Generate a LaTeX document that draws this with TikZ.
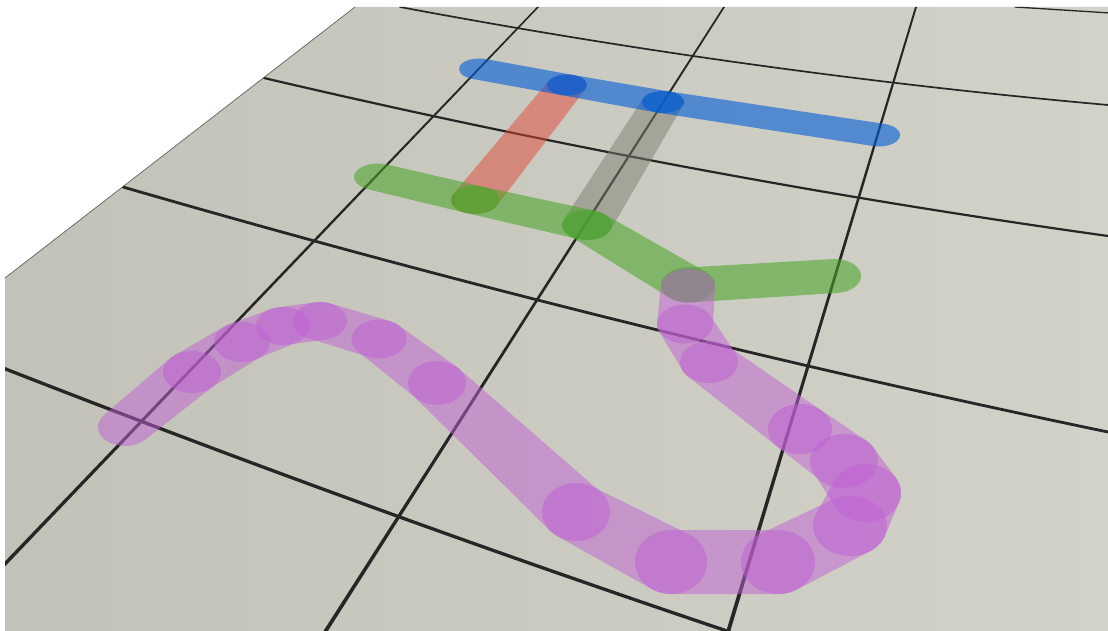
\documentclass[tikz,border=0pt]{standalone}
\usetikzlibrary{calc}
\definecolor{bgL}{RGB}{194,194,184}
\definecolor{bgR}{RGB}{210,210,200}
\definecolor{gridc}{RGB}{38,38,38}
\definecolor{edgec}{RGB}{110,110,105}
\definecolor{cblue}{RGB}{0,92,215}
\definecolor{cgreen}{RGB}{72,165,40}
\definecolor{cred}{RGB}{224,72,56}
\definecolor{cgray}{RGB}{126,126,112}
\definecolor{cpurple}{RGB}{192,96,212}
% tube segment: style, x1,y1,a1,b1, x2,y2,a2,b2
\newcommand\tubeseg[9]{%
  \pgfmathsetmacro\tsdx{#6-(#2)}%
  \pgfmathsetmacro\tsdy{#7-(#3)}%
  \pgfmathsetmacro\tslen{veclen(\tsdx,\tsdy)}%
  \pgfmathsetmacro\tsnx{-1*(\tsdy)/\tslen}%
  \pgfmathsetmacro\tsny{(\tsdx)/\tslen}%
  \pgfmathsetmacro\tsta{atan2((#5)*(\tsny),(#4)*(\tsnx))}%
  \pgfmathsetmacro\tstb{atan2((#9)*(\tsny),(#8)*(\tsnx))}%
  \pgfmathsetmacro\tsax{#2+(#4)*cos(\tsta)}%
  \pgfmathsetmacro\tsay{#3+(#5)*sin(\tsta)}%
  \pgfmathsetmacro\tsbx{#6+(#8)*cos(\tstb)}%
  \pgfmathsetmacro\tsby{#7+(#9)*sin(\tstb)}%
  \pgfmathsetmacro\tscx{#2-(#4)*cos(\tsta)}%
  \pgfmathsetmacro\tscy{#3-(#5)*sin(\tsta)}%
  \pgfmathsetmacro\tsbe{\tstb-180}%
  \pgfmathsetmacro\tsas{\tsta+180}%
  \fill[#1] (\tsax,\tsay) -- (\tsbx,\tsby)
    arc[start angle=\tstb, end angle=\tsbe, x radius=#8, y radius=#9]
    -- (\tscx,\tscy)
    arc[start angle=\tsas, end angle=\tsta, x radius=#4, y radius=#5] -- cycle;%
}
\begin{document}
\begin{tikzpicture}[x=1pt,y=-1pt,
  gridline/.style={draw=gridc,line cap=round},
  gridfill/.style={fill=gridc},
  tred/.style={fill=cred,fill opacity=0.5},
  tgray/.style={fill=cgray,fill opacity=0.5},
  tblue/.style={fill=cblue,fill opacity=0.6},
  tgreen/.style={fill=cgreen,fill opacity=0.57},
  tpurple/.style={fill=cpurple,fill opacity=0.5}]
\useasboundingbox (0,0) rectangle (1108,631);
\fill[white] (0,0) rectangle (1108,631);
% plane
\shade[left color=bgL,right color=bgR] (5,631) -- (5,278) -- (355,7) -- (1108,7) -- (1108,631) -- cycle;
\draw[edgec, line width=0.8pt] (5,278) -- (355,7);
% grid
\begin{scope}
\clip (5,631) -- (5,278) -- (355,7) -- (1108,7) -- (1108,631) -- cycle;
\coordinate (h1a) at (400,7);   \coordinate (h1c) at (754,73.4);  \coordinate (h1b) at (1108,105);
\coordinate (h2a) at (264,78);  \coordinate (h2c) at (686,177);   \coordinate (h2b) at (1108,236);
\coordinate (h3a) at (123,187); \coordinate (h3c) at (614.5,329.5); \coordinate (h3b) at (1108,432);
\coordinate (h4a) at (3,368);   \coordinate (h4c) at (366.5,510); \coordinate (h4b) at (730,632);
\draw[gridline, line width=1.3pt] (1015,7) -- (1110,13);
\draw[gridline, line width=1.7pt] (h1a) .. controls ($(h1a)!2/3!(h1c)$) and ($(h1b)!2/3!(h1c)$) .. (h1b);
\draw[gridline, line width=2.2pt] (h2a) .. controls ($(h2a)!2/3!(h2c)$) and ($(h2b)!2/3!(h2c)$) .. (h2b);
\draw[gridline, line width=2.8pt] (h3a) .. controls ($(h3a)!2/3!(h3c)$) and ($(h3b)!2/3!(h3c)$) .. (h3b);
\draw[gridline, line width=3.3pt] (h4a) .. controls ($(h4a)!2/3!(h4c)$) and ($(h4b)!2/3!(h4c)$) .. (h4b);
% vertical-ish lines, tapered
\fill[gridfill] (0.6,566) -- (536.9,7) -- (539.1,7) -- (5.4,566) -- cycle;
\fill[gridfill] (322.8,632) -- (723.0,7) -- (725.0,7) -- (327.2,632) -- cycle;
\fill[gridfill] (726.0,632) -- (915.0,7) -- (917.0,7) -- (730.0,632) -- cycle;
\end{scope}
% red and gray connectors
\tubeseg{tred}{567}{85}{20}{10.5}{475}{200}{24}{14}
\tubeseg{tgray}{663}{102}{21}{11}{587}{225}{25}{15}
% blue
\tubeseg{tblue}{479}{69}{20}{10.5}{567}{85}{20}{10.5}
\tubeseg{tblue}{567}{85}{20}{10.5}{663}{102}{21}{11}
\tubeseg{tblue}{663}{102}{21}{11}{879}{135}{21}{11.5}
% green
\tubeseg{tgreen}{378}{177}{24}{13.5}{475}{200}{24}{14}
\tubeseg{tgreen}{475}{200}{24}{14}{587}{225}{25}{15}
\tubeseg{tgreen}{587}{225}{25}{15}{688}{285}{27}{17.5}
\tubeseg{tgreen}{688}{285}{27}{17.5}{835}{276}{26}{17}
% purple
\tubeseg{tpurple}{688}{286}{27}{17.5}{685}{324}{28}{19.5}
\tubeseg{tpurple}{685}{324}{28}{19.5}{709}{362}{29}{21}
\tubeseg{tpurple}{709}{362}{29}{21}{800}{429}{32}{25}
\tubeseg{tpurple}{800}{429}{32}{25}{844}{461}{34}{27}
\tubeseg{tpurple}{844}{461}{34}{27}{866}{493}{35}{29}
\tubeseg{tpurple}{866}{493}{35}{29}{850}{526}{37}{30}
\tubeseg{tpurple}{850}{526}{37}{30}{778}{562}{37}{32}
\tubeseg{tpurple}{778}{562}{37}{32}{671}{562}{36}{32}
\tubeseg{tpurple}{671}{562}{36}{32}{576}{512}{34}{29}
\tubeseg{tpurple}{576}{512}{34}{29}{437}{383}{29}{22}
\tubeseg{tpurple}{437}{383}{29}{22}{379}{339}{27.5}{19.5}
\tubeseg{tpurple}{379}{339}{27.5}{19.5}{320}{321}{27}{19}
\tubeseg{tpurple}{320}{321}{27}{19}{283}{326}{27}{19}
\tubeseg{tpurple}{283}{326}{27}{19}{242}{342}{28}{20}
\tubeseg{tpurple}{242}{342}{28}{20}{192}{372}{29}{21}
\tubeseg{tpurple}{192}{372}{29}{21}{125}{427}{27}{19}
\end{tikzpicture}
\end{document}
